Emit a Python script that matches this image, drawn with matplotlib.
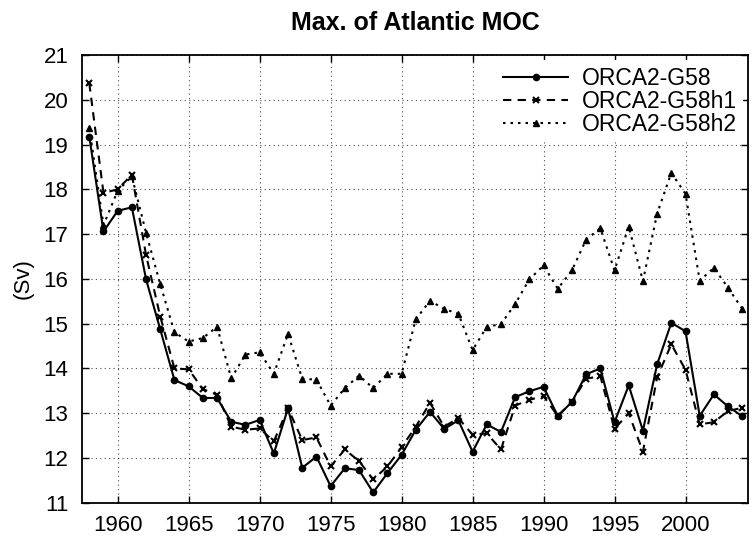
import matplotlib
matplotlib.use('Agg')
from matplotlib import pyplot as plt

plt.rcParams['font.family'] = ['Liberation Sans', 'DejaVu Sans']

years = list(range(1958, 2005))

orca2_g58 = [19.18, 17.06, 17.52, 17.60, 15.99, 14.87, 13.74, 13.60, 13.34, 13.34,
             12.81, 12.74, 12.85, 12.10, 13.11, 11.78, 12.03, 11.37, 11.77, 11.73,
             11.23, 11.66, 12.07, 12.63, 13.03, 12.65, 12.84, 12.14, 12.75, 12.58,
             13.36, 13.49, 13.59, 12.94, 13.25, 13.87, 14.00, 12.80, 13.62, 12.61,
             14.09, 15.02, 14.83, 12.94, 13.42, 13.15, 12.93]

orca2_g58h1 = [20.37, 17.92, 18.00, 18.33, 16.53, 15.16, 14.00, 13.98, 13.54, 13.41,
               12.70, 12.63, 12.66, 12.37, 13.11, 12.40, 12.46, 11.81, 12.19, 11.93,
               11.52, 11.81, 12.24, 12.70, 13.23, 12.70, 12.89, 12.52, 12.55, 12.19,
               13.17, 13.30, 13.38, 12.94, 13.25, 13.77, 13.83, 12.65, 13.00, 12.14,
               13.80, 14.54, 13.97, 12.75, 12.80, 13.05, 13.12]

orca2_g58h2 = [19.38, 17.20, 17.97, 18.29, 17.03, 15.88, 14.81, 14.60, 14.68, 14.93,
               13.78, 14.31, 14.36, 13.88, 14.77, 13.77, 13.75, 13.17, 13.56, 13.84,
               13.56, 13.88, 13.88, 15.10, 15.51, 15.33, 15.22, 14.41, 14.93, 14.99,
               15.44, 15.99, 16.30, 15.78, 16.19, 16.88, 17.13, 16.19, 17.17, 15.95,
               17.46, 18.37, 17.90, 15.96, 16.25, 15.80, 15.33]

fig = plt.figure(figsize=(7.54, 5.40), dpi=100)
ax = fig.add_axes([0.109, 0.069, 0.883, 0.829])

ax.plot(years, orca2_g58, c='black', lw=1.5, ls='-', marker='o', ms=4.5, label='ORCA2-G58')
ax.plot(years, orca2_g58h1, c='black', lw=1.5, ls=(0, (4, 3)), marker='x', ms=5, mew=1.5,
        label='ORCA2-G58h1')
ax.plot(years, orca2_g58h2, c='black', lw=1.5, ls=(0, (1.2, 2.4)), marker='^', ms=5,
        label='ORCA2-G58h2')

ax.set_xlim(1957.5, 2004.4)
ax.set_ylim(11, 21)
ax.set_xticks(range(1960, 2001, 5))
ax.set_yticks(range(11, 22))
ax.grid(True, ls=(0, (1, 3)), c='black', lw=0.8, alpha=0.7)
ax.tick_params(axis='both', which='major', direction='in', length=5, width=1,
               top=True, right=True, labelsize=16)
ax.tick_params(axis='x', pad=9)
ax.tick_params(axis='y', pad=10)
for s in ax.spines.values():
    s.set_linewidth(1.3)

ax.set_ylabel('(Sv)', fontsize=16, labelpad=7)
ax.set_title('Max. of Atlantic MOC', fontsize=18, fontweight='bold', pad=18)

leg = ax.legend(loc='upper right', fontsize=16.5, frameon=True, handlelength=2.8,
                borderpad=0.3, labelspacing=0.0, handletextpad=0.6, borderaxespad=0.2,
                fancybox=False)
leg.get_frame().set_edgecolor('none')
leg.get_frame().set_alpha(1)

plt.savefig('out.png', dpi=100)
